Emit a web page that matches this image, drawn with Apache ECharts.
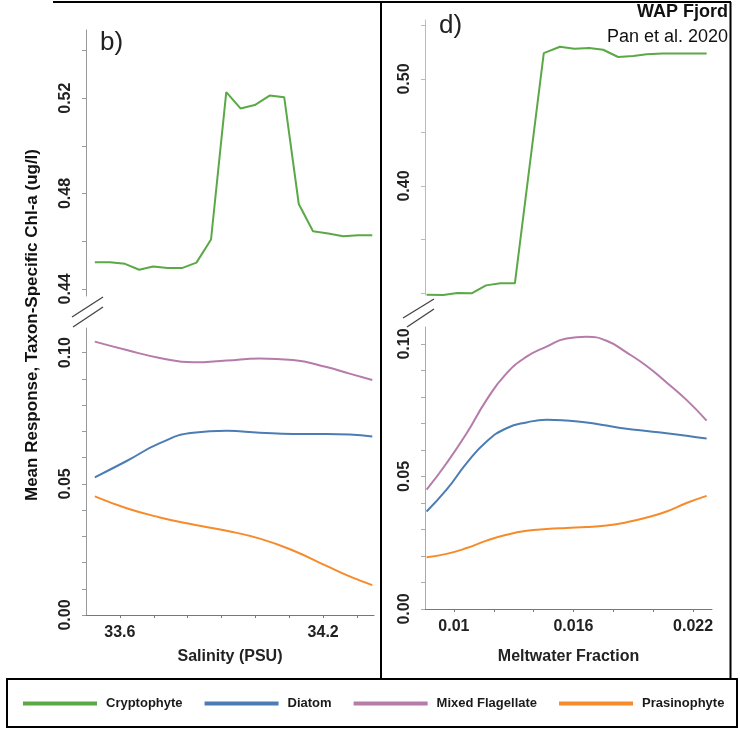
<!DOCTYPE html>
<html>
<head>
<meta charset="utf-8">
<script src="https://cdn.jsdelivr.net/npm/echarts@6/dist/echarts.min.js"></script>
<style>
  html, body { margin: 0; padding: 0; background: #fff; }
  #chart { width: 740px; height: 729px; }
</style>
</head>
<body>
<div id="chart"></div>
<script>
/*
 * WAP Fjord - mean response by salinity (b) and meltwater fraction (d)
 */
var salCryptoX = [33.526, 33.571, 33.615, 33.657, 33.698, 33.741, 33.783, 33.826, 33.869, 33.914,
                  33.956, 33.998, 34.042, 34.085, 34.128, 34.170, 34.215, 34.259, 34.303, 34.345]
var cryptoB = [0.4512, 0.4512, 0.4505, 0.4480, 0.4494, 0.4487, 0.4487, 0.4510, 0.4607, 0.5225,
               0.5157, 0.5171, 0.5211, 0.5204, 0.4756, 0.4642, 0.4632, 0.4621, 0.4625, 0.4625]

var salX = [33.526, 33.620, 33.718, 33.816, 33.915, 34.013, 34.111, 34.210, 34.278, 34.345]
var diatomB = [0.0525, 0.0587, 0.0655, 0.0695, 0.0702, 0.0695, 0.0690, 0.0690, 0.0688, 0.0680]
var mixedB = [0.1042, 0.1010, 0.0980, 0.0963, 0.0970, 0.0978, 0.0972, 0.0945, 0.0920, 0.0896]
var prasB = [0.0452, 0.0407, 0.0372, 0.0345, 0.0321, 0.0291, 0.0246, 0.0187, 0.0147, 0.0114]

var meltCryptoX = [0.00863, 0.00946, 0.01017, 0.01089, 0.01161, 0.01234, 0.01306, 0.01451, 0.01532, 0.01604,
                   0.01679, 0.01749, 0.01824, 0.01900, 0.01967, 0.02047, 0.02117, 0.02192, 0.02268]
var cryptoD = [0.2984, 0.2981, 0.3000, 0.2997, 0.3071, 0.3090, 0.3090, 0.5242, 0.5301, 0.5283,
               0.5289, 0.5273, 0.5205, 0.5214, 0.5230, 0.5239, 0.5239, 0.5239, 0.5239]

var meltX = [0.00863, 0.00963, 0.01064, 0.01164, 0.01264, 0.01365, 0.01465, 0.01565, 0.01666, 0.01766,
             0.01866, 0.01967, 0.02067, 0.02167, 0.02268]
var mixedD = [0.0450, 0.0550, 0.0663, 0.0789, 0.0889, 0.0952, 0.0990, 0.1021, 0.1027, 0.1012,
              0.0968, 0.0917, 0.0855, 0.0789, 0.0711]
var diatomD = [0.0368, 0.0450, 0.0550, 0.0632, 0.0682, 0.0704, 0.0714, 0.0711, 0.0704, 0.0692,
               0.0680, 0.0672, 0.0663, 0.0654, 0.0643]
var prasD = [0.0195, 0.0208, 0.0230, 0.0258, 0.0280, 0.0295, 0.0302, 0.0306, 0.0309, 0.0315,
             0.0327, 0.0345, 0.0368, 0.0400, 0.0427]

// tick positions and labelled ticks
var salTicks = [33.6, 33.7, 33.8, 33.9, 34.0, 34.1, 34.2, 34.3]
var salLabels = [33.6, 34.2]
var meltTicks = [0.010, 0.012, 0.014, 0.016, 0.018, 0.020, 0.022]
var meltLabels = [0.010, 0.016, 0.022]
var topBTicks = [0.44, 0.46, 0.48, 0.50, 0.52, 0.54]
var topBLabels = [0.44, 0.48, 0.52]
var topDTicks = [0.30, 0.35, 0.40, 0.45, 0.50, 0.55]
var topDLabels = [0.40, 0.50]
var lowTicks = [0, 0.01, 0.02, 0.03, 0.04, 0.05, 0.06, 0.07, 0.08, 0.09, 0.10]
var lowLabels = [0, 0.05, 0.10]

var colors = {
    crypto: '#5aa946',
    diatom: '#4c7cb4',
    mixed: '#b57caa',
    pras: '#f68b2c'
}

function pairs(xs, ys) {
    return xs.map(function (x, i) { return [x, ys[i]] })
}

function yAxisCfg(idx, min, max, ticks, labels, lineColor) {
    return {
        type: 'value',
        gridIndex: idx,
        min: min,
        max: max,
        splitLine: { show: false },
        axisLine: { show: true, lineStyle: { color: lineColor, width: 1 } },
        axisTick: { show: true, length: 4, customValues: ticks, lineStyle: { color: lineColor } },
        axisLabel: {
            customValues: labels,
            rotate: 90,
            margin: 12,
            fontSize: 16,
            fontWeight: 'bold',
            color: '#222',
            formatter: function (v) { return v.toFixed(2) }
        }
    }
}

function xAxisCfg(idx, min, max, show, ticks, labels, fmt, name, gap) {
    return {
        type: 'value',
        gridIndex: idx,
        min: min,
        max: max,
        show: show,
        name: name,
        nameLocation: 'middle',
        nameGap: gap,
        nameTextStyle: { fontSize: 16, fontWeight: 'bold', color: '#222' },
        splitLine: { show: false },
        axisLine: { show: true, lineStyle: { color: '#777', width: 1 } },
        axisTick: { show: true, length: 3, customValues: ticks, lineStyle: { color: '#777' } },
        axisLabel: {
            customValues: labels,
            margin: 10,
            fontSize: 16,
            fontWeight: 'bold',
            color: '#222',
            formatter: fmt
        }
    }
}

function lineSeries(name, xi, data, color, smooth) {
    return {
        name: name,
        type: 'line',
        xAxisIndex: xi,
        yAxisIndex: xi,
        data: data,
        smooth: smooth,
        symbol: 'none',
        clip: false,
        lineStyle: { color: color, width: 2 },
        itemStyle: { color: color }
    }
}

var frameStyle = { stroke: '#000', lineWidth: 2 }
var breakStyle = { stroke: '#444', lineWidth: 1.3 }

var option = {
    backgroundColor: '#fff',
    animation: false,
    textStyle: { fontFamily: 'Liberation Sans, Arial, sans-serif' },
    grid: [
        { left: 86, top: 30, width: 288, height: 266 },   // b top
        { left: 86, top: 328, width: 288, height: 287 },  // b bottom
        { left: 425, top: 20, width: 287, height: 275 },  // d top
        { left: 425, top: 327, width: 287, height: 282 }  // d bottom
    ],
    xAxis: [
        xAxisCfg(0, 33.5, 34.35, false, salTicks, salLabels, null, '', 0),
        xAxisCfg(1, 33.5, 34.35, true, salTicks, salLabels,
            function (v) { return v.toFixed(1) }, 'Salinity (PSU)', 34),
        xAxisCfg(2, 0.00855, 0.02295, false, meltTicks, meltLabels, null, '', 0),
        xAxisCfg(3, 0.00855, 0.02295, true, meltTicks, meltLabels,
            function (v) { return String(+v.toFixed(3)) }, 'Meltwater Fraction', 40)
    ],
    yAxis: [
        yAxisCfg(0, 0.437, 0.5486, topBTicks, topBLabels, '#999'),
        yAxisCfg(1, 0, 0.1094, lowTicks, lowLabels, '#999'),
        yAxisCfg(2, 0.2981, 0.5551, topDTicks, topDLabels, '#bbb'),
        yAxisCfg(3, 0, 0.1064, lowTicks, lowLabels, '#aaa')
    ],
    legend: {
        left: 18,
        top: 692,
        icon: 'rect',
        itemWidth: 74,
        itemHeight: 4,
        itemGap: 22,
        textStyle: { fontSize: 13, fontWeight: 'bold', color: '#1a1a1a', padding: [0, 0, 0, 4] },
        data: ['Cryptophyte', 'Diatom', 'Mixed Flagellate', 'Prasinophyte']
    },
    series: [
        lineSeries('Cryptophyte', 0, pairs(salCryptoX, cryptoB), colors.crypto, false),
        lineSeries('Diatom', 1, pairs(salX, diatomB), colors.diatom, true),
        lineSeries('Mixed Flagellate', 1, pairs(salX, mixedB), colors.mixed, true),
        lineSeries('Prasinophyte', 1, pairs(salX, prasB), colors.pras, true),
        lineSeries('Cryptophyte', 2, pairs(meltCryptoX, cryptoD), colors.crypto, false),
        lineSeries('Diatom', 3, pairs(meltX, diatomD), colors.diatom, true),
        lineSeries('Mixed Flagellate', 3, pairs(meltX, mixedD), colors.mixed, true),
        lineSeries('Prasinophyte', 3, pairs(meltX, prasD), colors.pras, true)
    ],
    graphic: [
        // frame lines
        { type: 'line', shape: { x1: 53, y1: 2, x2: 731, y2: 2 }, style: frameStyle },
        { type: 'line', shape: { x1: 381, y1: 2, x2: 381, y2: 679 }, style: frameStyle },
        { type: 'line', shape: { x1: 730.5, y1: 2, x2: 730.5, y2: 679 }, style: frameStyle },
        { type: 'rect', shape: { x: 7, y: 679, width: 730, height: 48 }, style: { fill: 'none', stroke: '#000', lineWidth: 2 } },
        // axis break marks
        { type: 'line', shape: { x1: 72, y1: 317, x2: 103, y2: 297 }, style: breakStyle },
        { type: 'line', shape: { x1: 73, y1: 327, x2: 103, y2: 307 }, style: breakStyle },
        { type: 'line', shape: { x1: 403, y1: 318, x2: 434, y2: 299 }, style: breakStyle },
        { type: 'line', shape: { x1: 407, y1: 327, x2: 434, y2: 309 }, style: breakStyle },
        // panel letters and titles
        { type: 'text', left: 100, top: 30, style: { text: 'b)', fontSize: 26, fill: '#222', fontFamily: 'Liberation Sans' } },
        { type: 'text', left: 439, top: 13, style: { text: 'd)', fontSize: 26, fill: '#222', fontFamily: 'Liberation Sans' } },
        { type: 'text', right: 12, top: 3, style: { text: 'WAP Fjord', fontSize: 18, fontWeight: 'bold', fill: '#111', fontFamily: 'Liberation Sans' } },
        { type: 'text', right: 12, top: 28, style: { text: 'Pan et al. 2020', fontSize: 18, fill: '#111', fontFamily: 'Liberation Sans' } },
        {
            type: 'text', x: 32, y: 325, rotation: Math.PI / 2,
            style: {
                text: 'Mean Response, Taxon-Specific Chl-a (ug/l)', fontSize: 17, fontWeight: 'bold',
                fill: '#111', fontFamily: 'Liberation Sans', align: 'center', verticalAlign: 'middle'
            }
        }
    ]
}

var chart = echarts.init(document.getElementById('chart'))
chart.setOption(option)
</script>
</body>
</html>
